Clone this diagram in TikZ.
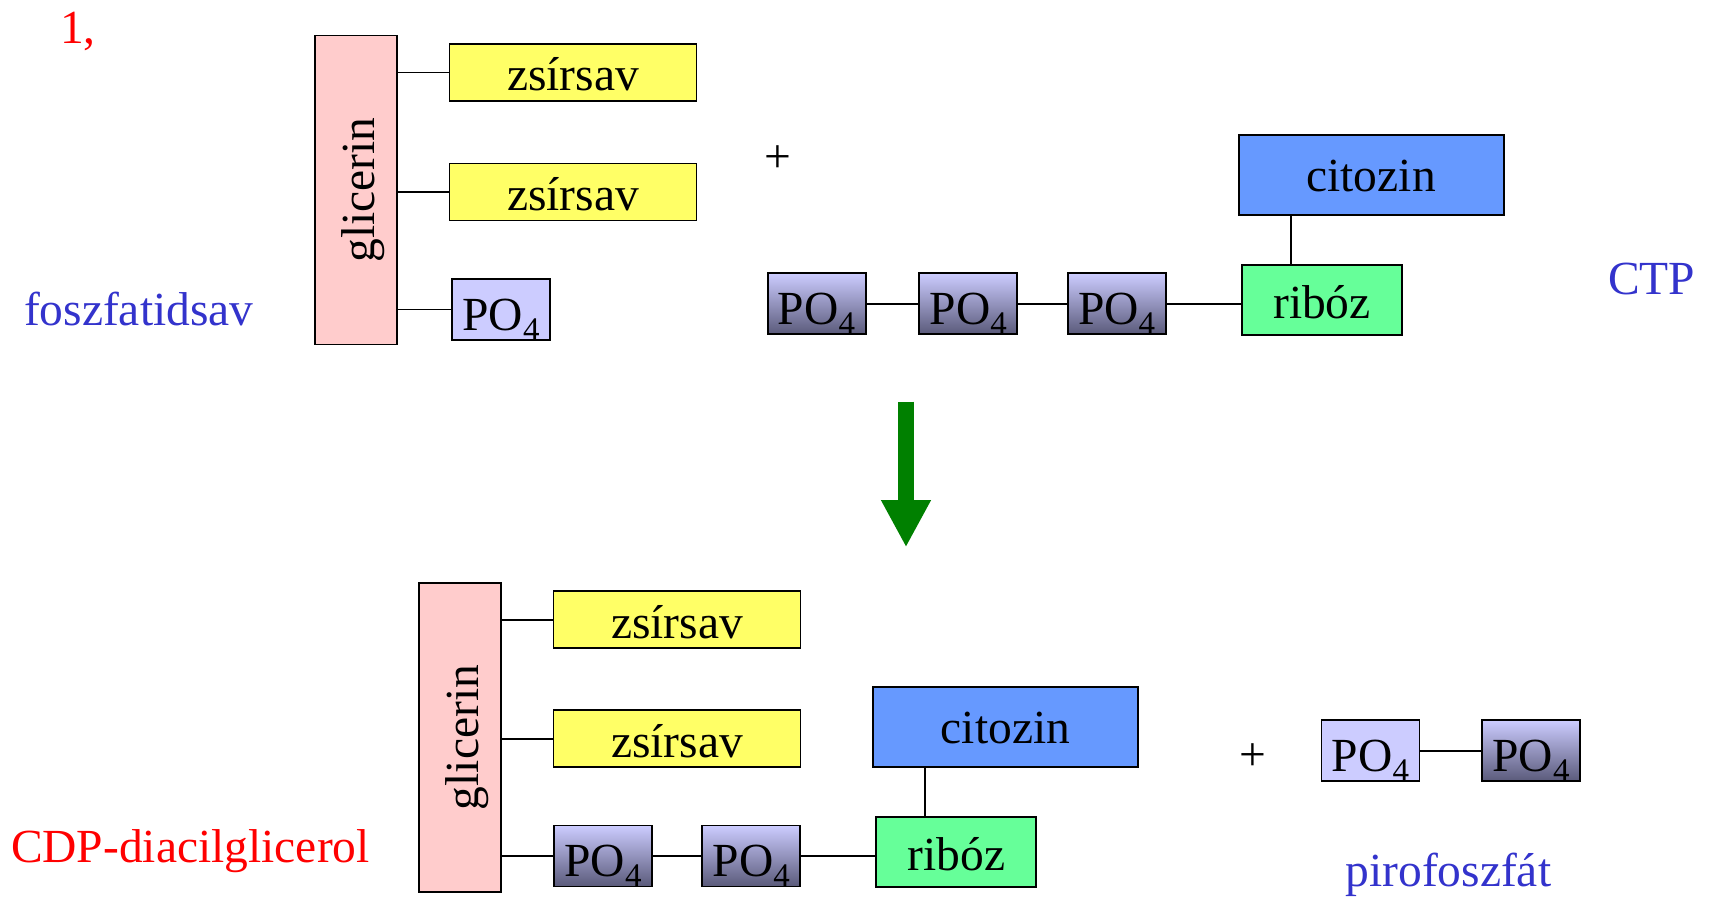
\documentclass[tikz,border=0pt]{standalone}
\usepackage{fontspec}
\setmainfont{Liberation Serif}
\usetikzlibrary{arrows.meta}

\definecolor{glic}{RGB}{255,204,204}
\definecolor{zsir}{RGB}{255,255,102}
\definecolor{cito}{RGB}{102,153,255}
\definecolor{ribo}{RGB}{102,255,153}
\definecolor{phos}{RGB}{204,204,255}
\definecolor{phosdark}{RGB}{90,90,122}
\definecolor{labblue}{RGB}{51,51,204}
\definecolor{arrgreen}{RGB}{0,128,0}

% phosphate group with a lowered subscript
\newcommand{\POfour}{PO\raisebox{-10pt}{\fontsize{33}{33}\selectfont 4}}

\begin{document}
\begin{tikzpicture}[x=1pt,y=-1pt,
  every node/.style={inner sep=0pt, outer sep=0pt, font=\fontsize{47.5}{57}\selectfont},
  unit/.style={draw, line width=1.9pt, text depth=0pt},
  glicbox/.style={unit, fill=glic, rotate=90, minimum width=309pt, minimum height=82pt, text height=36pt},
  zsbox/.style={unit, fill=zsir, minimum width=247pt, minimum height=57pt, text height=37pt},
  pobox/.style={unit, fill=phos, minimum width=98pt, minimum height=61pt, text height=41pt},
  podark/.style={pobox, top color=phos, bottom color=phosdark},
  ribbox/.style={unit, fill=ribo, minimum width=160pt, minimum height=70pt, text height=36pt},
  citbox/.style={unit, fill=cito, minimum width=265pt, minimum height=80pt, text height=32pt},
  link/.style={line width=1.9pt},
  label/.style={anchor=base west}
]
\useasboundingbox (0,0) rectangle (1711,899);

% ---------- phosphatidic acid ----------
\node[glicbox] (g1) at (356,190) {glicerin};
\node[zsbox] (z1a) at (573,72.5) {zsírsav};
\node[zsbox] (z1b) at (573,192) {zsírsav};
\node[pobox] (p0) at (501,309.5) {\POfour};
\draw[link] (z1a.west -| g1.south) -- (z1a.west);
\draw[link] (z1b.west -| g1.south) -- (z1b.west);
\draw[link] (p0.west -| g1.south) -- (p0.west);

\node (plus1) at (778,159) {+};

% ---------- CTP ----------
\node[podark] (p1) at (816.6,303.8) {\POfour};
\node[podark] (p2) at (968.2,303.8) {\POfour};
\node[podark] (p3) at (1116.6,303.8) {\POfour};
\node[ribbox] (r1) at (1322,300.1) {ribóz};
\node[citbox] (c1) at (1371.1,175.2) {citozin};
\coordinate (v1) at (1291,0);
\draw[link] (p1.east) -- (p2.west);
\draw[link] (p2.east) -- (p3.west);
\draw[link] (p3.east) -- (p3.east -| r1.west);
\draw[link] (c1.south -| v1) -- (r1.north -| v1);

% ---------- labels ----------
\node[label, red] (num) at (60,43.6) {1,};
\node[label, labblue] (fsav) at (24,325) {foszfatidsav};
\node[label, labblue] (ctp) at (1608,294.6) {CTP};
\node[label, red] (cdp) at (11,862) {CDP-diacilglicerol};
\node[label, labblue] (pyro) at (1345.5,886) {pirofoszfát};

% ---------- reaction arrow ----------
\coordinate (arrS) at (906,401.7);
\coordinate (arrE) at (906,547.3);
\draw[arrgreen, line width=16pt, -{Triangle[width=46.6pt, length=47.3pt]}] (arrS) -- (arrE);

% ---------- CDP-diacylglycerol ----------
\node[glicbox] (g2) at (460,737.6) {glicerin};
\node[zsbox] (z2a) at (677,619.8) {zsírsav};
\node[zsbox] (z2b) at (677,738.8) {zsírsav};
\node[podark] (q1) at (602.9,856) {\POfour};
\node[podark] (q2) at (751.2,856) {\POfour};
\node[ribbox] (r2) at (956.4,852.3) {ribóz};
\node[citbox] (c2) at (1005.5,727.3) {citozin};
\coordinate (v2) at (925.3,0);
\draw[link] (z2a.west -| g2.south) -- (z2a.west);
\draw[link] (z2b.west -| g2.south) -- (z2b.west);
\draw[link] (q1.west -| g2.south) -- (q1.west);
\draw[link] (q1.east) -- (q2.west);
\draw[link] (q2.east) -- (q2.east -| r2.west);
\draw[link] (c2.south -| v2) -- (r2.north -| v2);

% ---------- pyrophosphate ----------
\node (plus2) at (1252.7,757.3) {+};
\node[pobox] (s1) at (1370.5,750.7) {\POfour};
\node[podark] (s2) at (1531,750.7) {\POfour};
\draw[link] (s1.east) -- (s2.west);
\end{tikzpicture}
\end{document}
